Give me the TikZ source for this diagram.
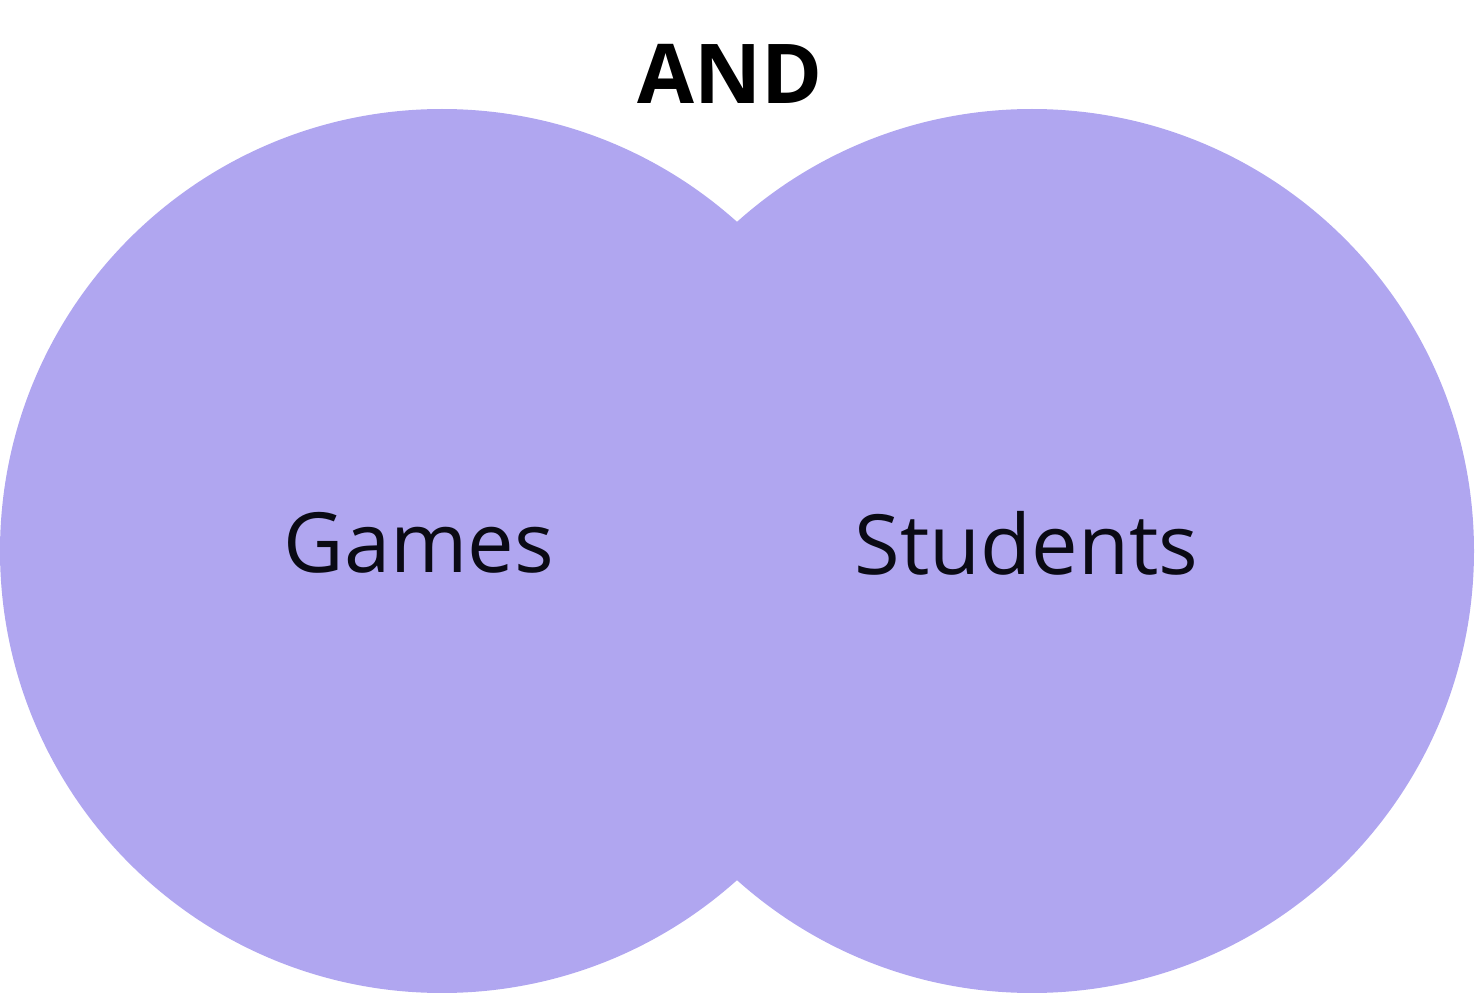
\documentclass[tikz,border=0pt]{standalone}
\usepackage{fontspec}
\setmainfont{Open Sans}
\definecolor{setfill}{HTML}{B0A6F0}
\definecolor{ink}{HTML}{0A0A14}
\begin{document}
\begin{tikzpicture}[x=0.02cm,y=-0.02cm,
  setcircle/.style={fill=setfill,draw=none},
  setlabel/.style={text=ink,font=\fontsize{47.3}{57}\selectfont,inner sep=0pt},
  titlelabel/.style={text=black,font=\fontsize{47}{56}\selectfont\bfseries,inner sep=0pt}]
\useasboundingbox (0,0) rectangle (1475,993);
\fill[setcircle] (442,551) circle (442);
\fill[setcircle] (1032,551) circle (442);
\node[titlelabel] (title) at (730,74) {AND};
\node[setlabel] (games) at (419,543) {Games};
\node[setlabel] (students) at (1026.5,543) {Students};
\end{tikzpicture}
\end{document}
